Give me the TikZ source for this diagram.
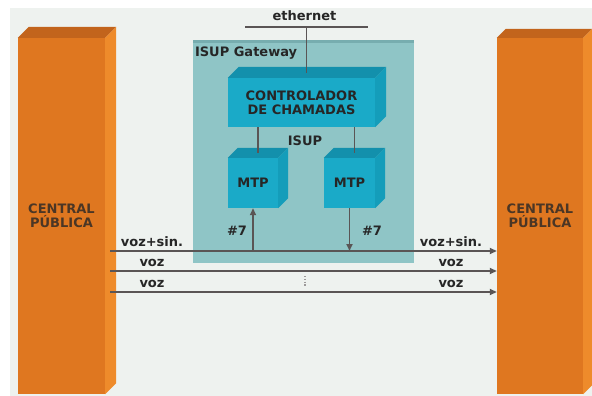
\documentclass[tikz,border=0pt]{standalone}
\usepackage{fontspec}
\setmainfont{DejaVu Sans}
\usetikzlibrary{calc, arrows.meta}

\definecolor{fundo}{HTML}{EEF2EF}
\definecolor{laranja}{HTML}{DF7720}
\definecolor{laranjalado}{HTML}{EE8B2B}
\definecolor{laranjatopo}{HTML}{C2641C}
\definecolor{gateway}{HTML}{8FC5C6}
\definecolor{gatewaytopo}{HTML}{77ADAF}
\definecolor{ciano}{HTML}{1AAAC8}
\definecolor{cianolado}{HTML}{149DBA}
\definecolor{cianotopo}{HTML}{1390AC}
\definecolor{linhacor}{HTML}{5A5555}
\definecolor{texto}{HTML}{262626}

\begin{document}
\begin{tikzpicture}[x=1pt, y=-1pt, font=\fontsize{13}{14}\selectfont\bfseries,
  linha/.style={draw=linhacor, line width=1.6pt},
  seta/.style={linha, -{Triangle[length=7pt, width=6pt]}},
  central/.style={fill=laranja, inner sep=0pt, minimum width=87pt, minimum height=356pt,
    align=center, text=texto!80!laranja},
  caixa/.style={fill=ciano, inner sep=0pt, align=center, text=texto},
  rotulo/.style={text=texto, inner sep=1pt}]
  % fundo e margens
  \useasboundingbox (0,0) rectangle (592,396);
  \fill[white] (0,0) rectangle (592,396);
  \fill[fundo] (10,8) rectangle (592,396);

  % ISUP Gateway
  \node[fill=gateway, minimum width=221pt, minimum height=223pt, inner sep=0pt] (gw) at (303.5,151.5) {};
  \fill[gatewaytopo] (gw.north west) rectangle ($(gw.north east)+(0,3)$);
  \node[rotulo, anchor=west] (gwlbl) at ($(gw.north west)+(1,13)$) {ISUP Gateway};

  % centrais publicas (caixas 3D)
  \node[central] (cpA) at (61.5,216) {CENTRAL\\PÚBLICA};
  \node[central, minimum width=86pt] (cpB) at (540,216) {CENTRAL\\PÚBLICA};
  \foreach \n/\d in {cpA/11, cpB/9} {
    \fill[laranjatopo] (\n.north west) -- ++(\d,-\d) -- ($(\n.north east)+(\d,-\d)$) -- (\n.north east) -- cycle;
    \fill[laranjalado] (\n.north east) -- ++(\d,-\d) -- ($(\n.south east)+(\d,-\d)$) -- (\n.south east) -- cycle;
  }

  % controlador e MTP
  \node[caixa, minimum width=147pt, minimum height=49pt] (ctrl) at (301.5,102.5) {CONTROLADOR\\DE CHAMADAS};
  \node[caixa, minimum width=50pt, minimum height=50pt] (mtpa) at (253,183) {MTP};
  \node[caixa, minimum width=51pt, minimum height=50pt] (mtpb) at (349.5,183) {MTP};
  \foreach \n/\d in {ctrl/11, mtpa/10, mtpb/10} {
    \fill[cianotopo] (\n.north west) -- ++(\d,-\d) -- ($(\n.north east)+(\d,-\d)$) -- (\n.north east) -- cycle;
    \fill[cianolado] (\n.north east) -- ++(\d,-\d) -- ($(\n.south east)+(\d,-\d)$) -- (\n.south east) -- cycle;
  }
  \node[rotulo] (isup) at (305,141) {ISUP};

  % ethernet
  \node[rotulo] (eth) at (304.5,16) {ethernet};
  \coordinate (ethA) at (245,27);
  \coordinate (ethB) at (368,27);
  \coordinate (ctop) at ($(ctrl.north)+(5,-5)$);
  \draw[linha] (ethA) -- (ethB);
  \draw[linha] (ctop |- ethA) -- (ctop);

  % ligacoes controlador -> MTP
  \coordinate (ta) at ($(mtpa.north)+(5,-5)$);
  \coordinate (tb) at ($(mtpb.north)+(5,-5)$);
  \draw[linha] (ctrl.south -| ta) -- (ta);
  \draw[linha] (ctrl.south -| tb) -- (tb);

  % circuitos entre as centrais
  \foreach \i/\y/\txt in {1/251/voz+sin., 2/271/voz, 3/292/voz} {
    \coordinate (s\i) at (110,\y);
    \draw[seta] (s\i) -- (s\i -| cpB.west);
    \node[rotulo, anchor=base] at (152,\y-5) {\txt};
    \node[rotulo, anchor=base] at (451,\y-5) {\txt};
  }
  % reticencias verticais
  \draw[linhacor!60, line width=1.2pt, dash pattern=on 1.2pt off 1.6pt] (305,276) -- (305,286);

  % sinalizacao #7
  \draw[seta] (mtpa.south |- s1) -- (mtpa.south);
  \draw[seta] (mtpb.south) -- (mtpb.south |- s1);
  \node[rotulo] (n7a) at (237,231) {\#7};
  \node[rotulo] (n7b) at (372,231) {\#7};
\end{tikzpicture}
\end{document}
